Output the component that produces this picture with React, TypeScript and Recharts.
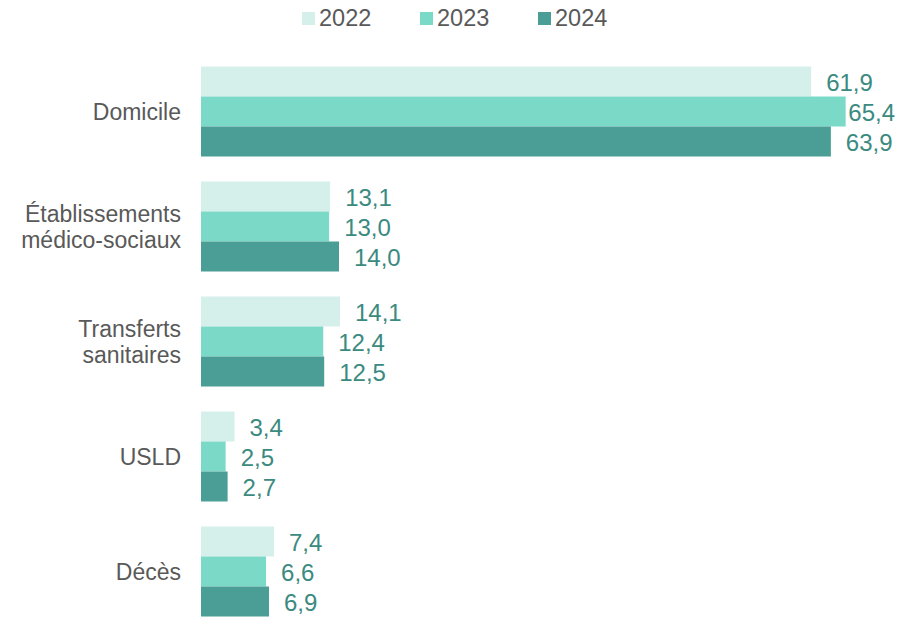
import { BarChart, Bar, XAxis, YAxis, LabelList } from 'recharts'

const categories = ['Domicile', 'Établissements\nmédico-sociaux', 'Transferts\nsanitaires', 'USLD', 'Décès']
const values2022 = [61.9, 13.1, 14.1, 3.4, 7.4]
const values2023 = [65.4, 13.0, 12.4, 2.5, 6.6]
const values2024 = [63.9, 14.0, 12.5, 2.7, 6.9]

const SERIES = [
  { key: 'y2022', name: '2022', color: '#d5efeb' },
  { key: 'y2023', name: '2023', color: '#7bd9c8' },
  { key: 'y2024', name: '2024', color: '#4a9e95' },
]

const data = categories.map((c, i) => ({
  cat: c,
  y2022: values2022[i],
  y2023: values2023[i],
  y2024: values2024[i],
}))

const FONT = '"Liberation Sans", Arial, sans-serif'
const WIDTH = 897
const LABEL_SIZE = 24

const fmt = (v: number) => v.toFixed(1).replace('.', ',')

// eslint-disable-next-line @typescript-eslint/no-explicit-any
function CategoryTick({ x, y, payload }: any) {
  const lines = String(payload.value).split('\n')
  const lh = 26
  const start = y - ((lines.length - 1) * lh) / 2 + 1
  return (
    <text x={x} y={start} textAnchor="end" fill="#595959" fontSize={23} fontFamily={FONT} dominantBaseline="central">
      {lines.map((l, i) => (
        <tspan key={i} x={x} y={start + i * lh}>{l}</tspan>
      ))}
    </text>
  )
}

// eslint-disable-next-line @typescript-eslint/no-explicit-any
function ValueLabel({ x, y, width, height, value }: any) {
  const text = fmt(value)
  // digits ~0.556em, comma ~0.278em in Arial metrics
  const textW = (text.length - 1) * LABEL_SIZE * 0.556 + LABEL_SIZE * 0.278
  const lx = Math.min(x + width + 15, WIDTH - 2 - textW)
  return (
    <text x={lx} y={y + height / 2 + 1} fill="#3b8a80" fontSize={LABEL_SIZE} fontFamily={FONT} dominantBaseline="central">
      {text}
    </text>
  )
}

function LegendBox() {
  return (
    <div style={{ position: 'absolute', top: 4, left: 302, display: 'flex', fontFamily: FONT, fontSize: 23.5, color: '#595959', lineHeight: '28px' }}>
      {SERIES.map(s => (
        <div key={s.key} style={{ display: 'flex', alignItems: 'center', width: 118 }}>
          <span style={{ display: 'inline-block', width: 13, height: 13, background: s.color, marginRight: 4 }} />
          <span>{s.name}</span>
        </div>
      ))}
    </div>
  )
}

export default function App() {
  return (
    <div style={{ position: 'absolute', left: 0, top: 0, width: WIDTH, height: 617, overflow: 'hidden', background: '#fff' }}>
      <BarChart
        width={WIDTH}
        height={640}
        data={data}
        layout="vertical"
        margin={{ top: 53.5, right: 6, left: 0, bottom: 11.5 }}
        barGap={0}
      >
        <XAxis type="number" domain={[0, 70]} hide />
        <YAxis
          type="category"
          dataKey="cat"
          width={201}
          axisLine={false}
          tickLine={false}
          tick={<CategoryTick />}
          tickMargin={14}
          interval={0}
        />
        {SERIES.map(s => (
          <Bar key={s.key} dataKey={s.key} name={s.name} fill={s.color} barSize={30} isAnimationActive={false}>
            <LabelList dataKey={s.key} content={<ValueLabel />} />
          </Bar>
        ))}
      </BarChart>
      <LegendBox />
    </div>
  )
}
